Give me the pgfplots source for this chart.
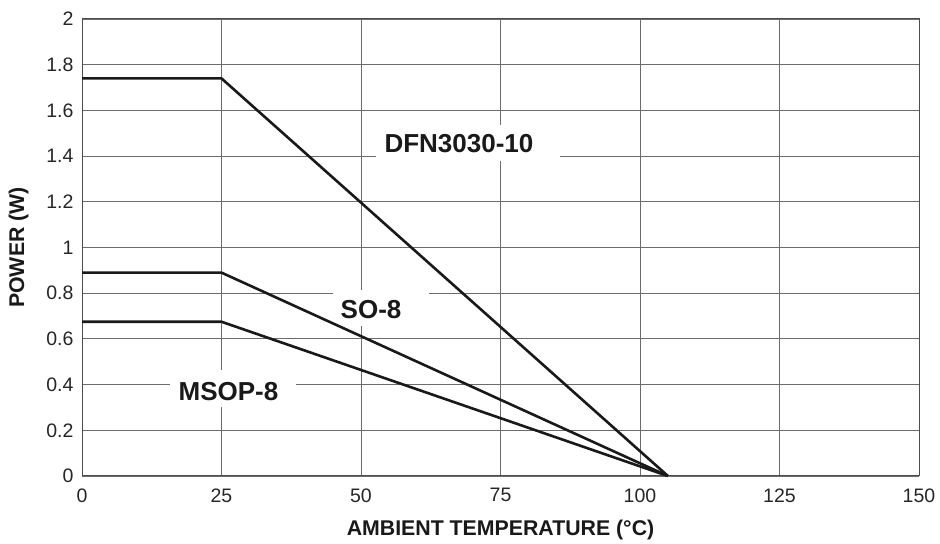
\documentclass[border=0pt]{standalone}
\usepackage{fontspec}
\setmainfont{Liberation Sans}
\usepackage{pgfplots}
\pgfplotsset{compat=1.18}

\begin{document}
\begin{tikzpicture}
\begin{axis}[
    name=ax,
    set layers=standard,
    scale only axis,
    width=837pt, height=457pt,
    xmin=0, xmax=150, ymin=0, ymax=2,
    xtick={0,25,...,150},
    ytick={0,0.2,...,2},
    grid=major,
    major grid style={gray!85!black, line width=0.9pt},
    axis line style={gray!60!black, line width=1pt},
    tick style={draw=none},
    ticklabel style={font=\fontsize{19.5pt}{21pt}\selectfont, text=black!85},
    /pgf/number format/assume math mode=true,
    yticklabel style={xshift=-5pt, /pgf/number format/.cd, fixed, precision=1},
    xticklabel style={yshift=-9pt},
    xlabel={\textbf{AMBIENT TEMPERATURE (°C)}},
    ylabel={\textbf{POWER (W)}},
    label style={font=\fontsize{21.3pt}{23pt}\selectfont, text=black!90},
    xlabel style={yshift=-11pt},
    ylabel style={yshift=11pt},
    clip=false,
]
% white boxes that break the grid behind the labels
\begin{pgfonlayer}{pre main}
\begin{scope}[every node/.style={fill=white, inner sep=0pt}]
\node[minimum width=184pt, minimum height=36pt] at (axis cs:69.18,1.457) {};
\node[minimum width=96pt, minimum height=36pt] at (axis cs:53.58,0.735) {};
\node[minimum width=126pt, minimum height=37pt] at (axis cs:27.06,0.383) {};
\end{scope}
\end{pgfonlayer}

% DFN3030-10
\addplot[line width=2.6pt, black!90, no marks] coordinates {(0,1.74) (25,1.74) (105,0)};
% SO-8
\addplot[line width=2.6pt, black!90, no marks] coordinates {(0,0.89) (25,0.89) (105,0)};
% MSOP-8
\addplot[line width=2.6pt, black!90, no marks] coordinates {(0,0.675) (25,0.675) (105,0)};

\begin{scope}[every node/.style={inner sep=0pt, text depth=0pt,
    font=\fontsize{26pt}{28pt}\selectfont\bfseries, text=black!90}]
\node at (axis cs:67.56,1.457) {DFN3030-10};
\node at (axis cs:51.8,0.729) {SO-8};
\node at (axis cs:26.25,0.369) {MSOP-8};
\end{scope}
\end{axis}
\path ([xshift=-82pt,yshift=-63pt]ax.south west) rectangle ([xshift=21pt,yshift=19pt]ax.north east);
\end{tikzpicture}
\end{document}
